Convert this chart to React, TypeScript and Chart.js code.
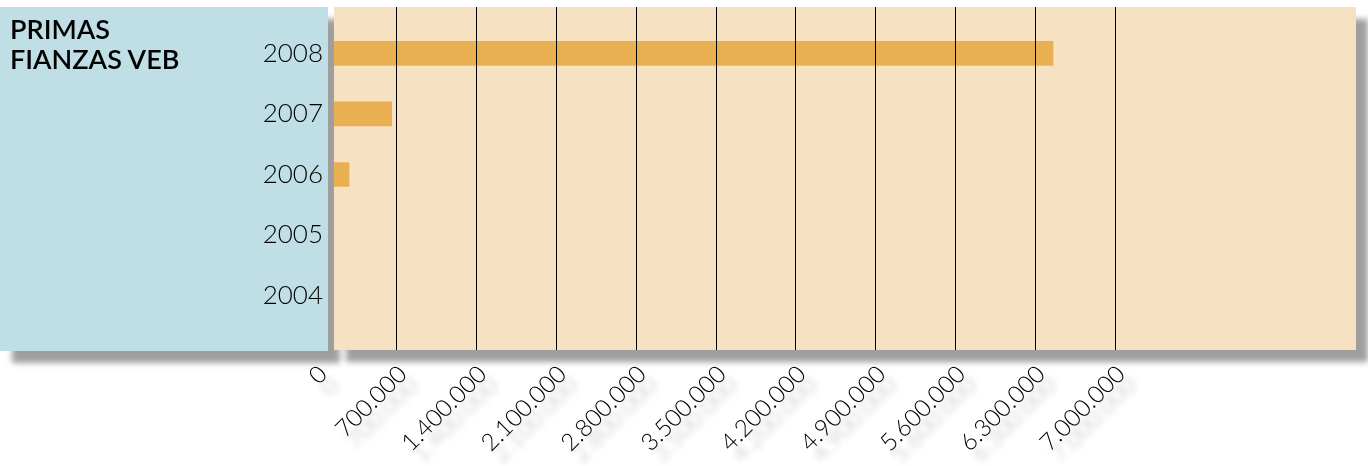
import React, { useEffect, useRef } from 'react';
import { Chart, registerables } from 'chart.js';

Chart.register(...registerables);

// ---- data ----
const years = ['2008', '2007', '2006', '2005', '2004'];
const primas = [6456000, 655000, 281000, 0, 0];
const axisMin = 0;
const axisMax = 7000000;
const axisStep = 700000;
const titleLines = ['PRIMAS', 'FIANZAS VEB'];

// ---- styles ----
const BLUE = '#C0DEE5';
const BEIGE = '#F7E1C3';
const BAR = '#E9B052';
const SHADOW = 'rgba(0,0,0,0.38)';

const fmt = (v: number) => String(Math.round(v)).replace(/\B(?=(\d{3})+(?!\d))/g, '.');

const gridColor = (c: any) => (c.tick && c.tick.value === 0 ? 'rgba(0,0,0,0)' : '#000');

const panelsPlugin = {
  id: 'panels',
  beforeDraw(chart: any) {
    const { ctx } = chart;
    const top = 7;
    ctx.save();
    ctx.shadowColor = SHADOW;
    ctx.shadowBlur = 6;
    ctx.shadowOffsetX = 12;
    ctx.shadowOffsetY = 12;
    ctx.fillStyle = BLUE;
    ctx.fillRect(0, top, 328, 351 - top);
    ctx.fillStyle = BEIGE;
    ctx.fillRect(334, top, 1356 - 334, 350 - top);
    ctx.restore();

    const sy: any = chart.scales.y;
    if (sy) sy._computeLabelArea = () => undefined;

    const sx: any = chart.scales.x;
    if (sx && !sx.__shadowed) {
      const orig = sx.drawLabels.bind(sx);
      sx.drawLabels = (area: any) => {
        const c = chart.ctx;
        c.save();
        c.shadowColor = 'rgba(0,0,0,0.3)';
        c.shadowBlur = 6;
        c.shadowOffsetX = 11;
        c.shadowOffsetY = 11;
        orig(area);
        c.restore();
      };
      sx.__shadowed = true;
    }
  },
  beforeDatasetsDraw(chart: any) {
    const { ctx } = chart;
    ctx.save();
    ctx.beginPath();
    ctx.rect(334, 0, chart.width - 334, chart.height);
    ctx.clip();
  },
  afterDatasetsDraw(chart: any) {
    chart.ctx.restore();
  },
};

export default function App() {
  const ref = useRef<HTMLCanvasElement>(null);

  useEffect(() => {
    const chart = new Chart(ref.current as HTMLCanvasElement, {
      type: 'bar',
      data: {
        labels: years,
        datasets: [
          {
            data: primas,
            backgroundColor: BAR,
            borderWidth: 0,
            barThickness: 24,
          },
        ],
      },
      options: {
        indexAxis: 'y',
        responsive: false,
        animation: false,
        layout: { padding: { top: 7, right: 253, left: 0, bottom: 0 } },
        plugins: {
          legend: { display: false },
          tooltip: { enabled: false },
          title: { display: false },
        },
        scales: {
          x: {
            type: 'linear',
            position: 'bottom',
            min: axisMin,
            max: axisMax,
            ticks: {
              stepSize: axisStep,
              autoSkip: false,
              minRotation: 45,
              maxRotation: 45,
              padding: 10,
              labelOffset: 6,
              color: '#000',
              font: { family: 'Lato, sans-serif', size: 24, weight: '300' },
              callback: (v: any) => fmt(Number(v)),
              z: 2,
            },
            grid: { color: gridColor, lineWidth: 1, drawTicks: true, tickLength: 24, z: 1 },
            border: { display: false },
            afterFit: (s: any) => {
              s.height = 140;
            },
          },
          x2: {
            type: 'linear',
            axis: 'x',
            position: 'top',
            min: axisMin,
            max: axisMax,
            ticks: { display: false, stepSize: axisStep },
            grid: { color: gridColor, lineWidth: 1, drawOnChartArea: false, drawTicks: true, tickLength: 16, z: 1 },
            border: { display: false },
            afterFit: (s: any) => {
              s.height = 16;
            },
          },
          y: {
            type: 'category',
            grid: { display: false, drawTicks: false },
            border: { display: false },
            ticks: { padding: -6, color: '#000', font: { family: 'Lato, sans-serif', size: 26, weight: '300' }, z: 2 },
            afterFit: (s: any) => {
              s.width = 317;
            },
          },
        },
      } as any,
      plugins: [panelsPlugin],
    });
    return () => chart.destroy();
  }, []);

  return (
    <div style={{ position: 'absolute', left: 0, top: 0, width: 1368, height: 466, background: '#fff', overflow: 'hidden' }}>
      <canvas ref={ref} width={1368} height={466} style={{ position: 'absolute', left: 0, top: 0, width: 1368, height: 466 }} />
      <div
        style={{
          position: 'absolute',
          left: 10,
          top: 14,
          fontFamily: 'Lato, sans-serif',
          fontWeight: 600,
          fontSize: 27,
          lineHeight: '30px',
          color: '#000',
        }}
      >
        {titleLines.map((l) => (
          <div key={l}>{l}</div>
        ))}
      </div>
    </div>
  );
}
